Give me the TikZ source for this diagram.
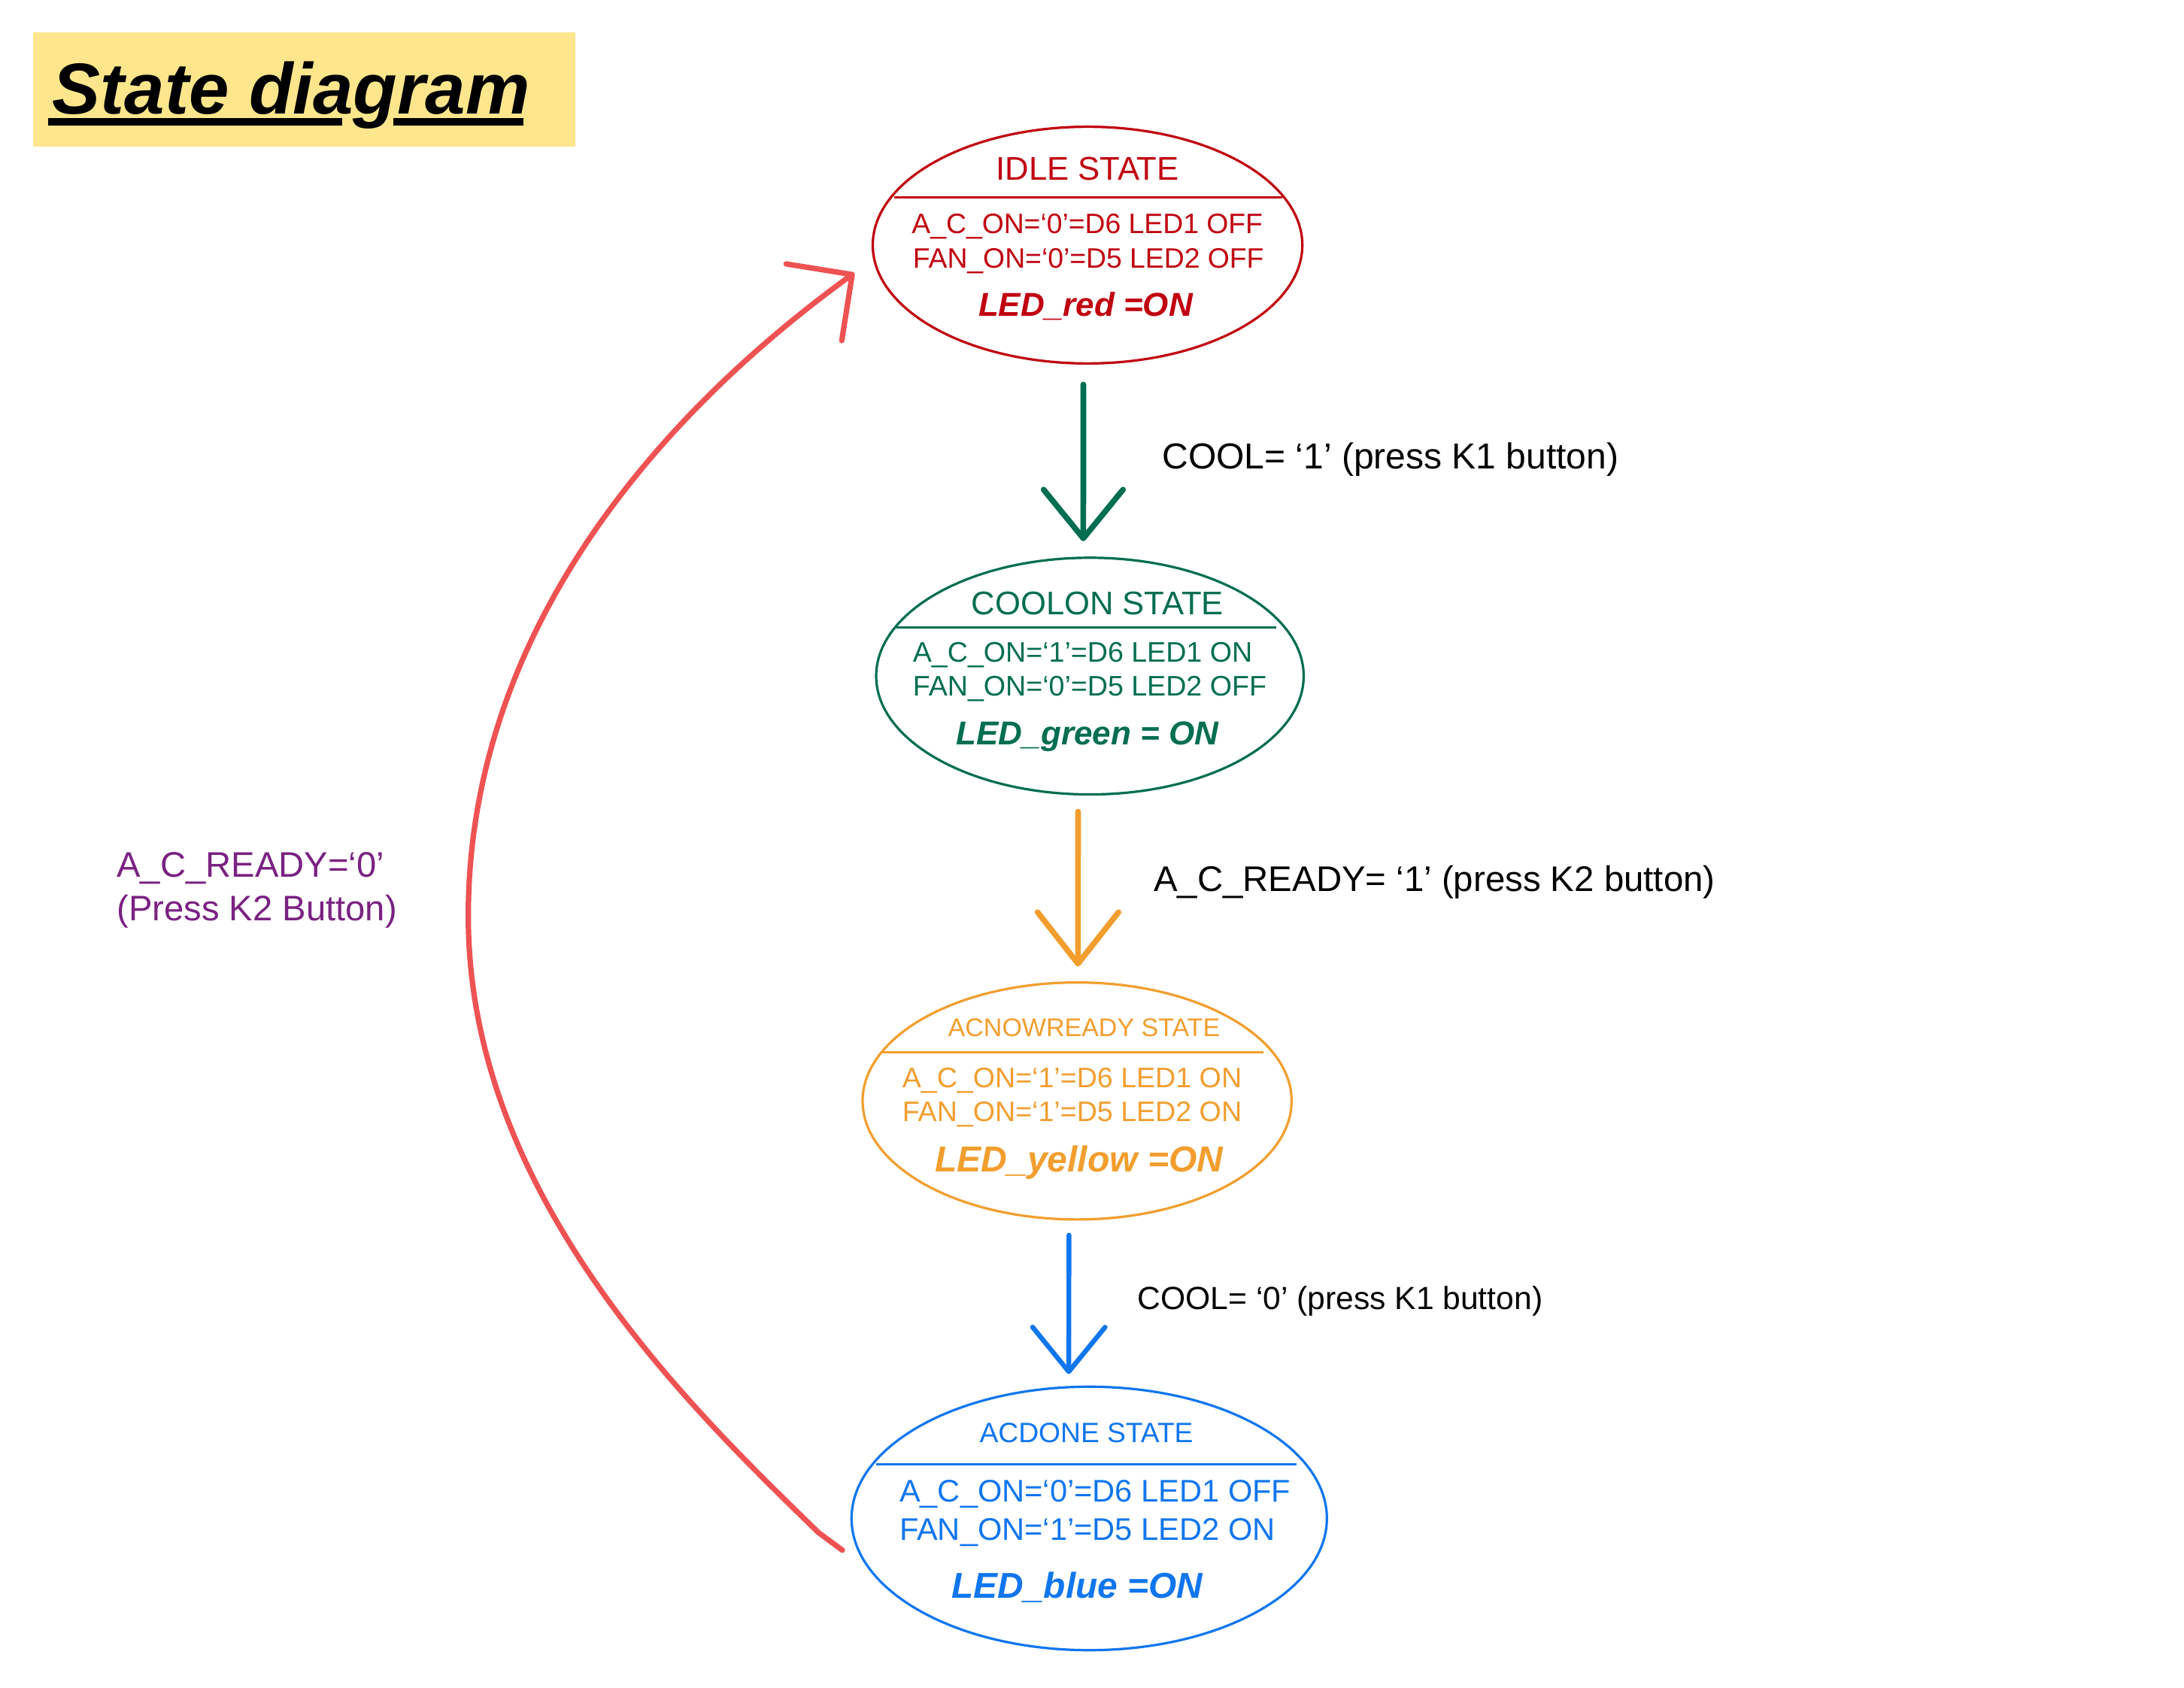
\documentclass[tikz,border=0pt]{standalone}
\usepackage{fontspec}
\setmainfont{Liberation Sans}
\usetikzlibrary{shapes.geometric,arrows.meta}
\definecolor{cidle}{RGB}{192,0,16}
\definecolor{cgreen}{RGB}{0,110,80}
\definecolor{corange}{RGB}{242,158,46}
\definecolor{cblue}{RGB}{16,118,238}
\definecolor{credarr}{RGB}{238,82,82}
\definecolor{cpurple}{RGB}{122,34,130}
\definecolor{cyellow}{RGB}{255,230,140}
\begin{document}
\begin{tikzpicture}[x=0.463pt,y=-0.463pt,
  statebox/.style={draw, ellipse, inner sep=0pt, line width=0.8pt},
  divider/.style={line width=0.8pt},
  fsz/.style={font=\fontsize{#1}{#1}\selectfont},
  bisz/.style={font=\fontsize{#1}{#1}\selectfont\bfseries\itshape},
  ctxt/.style={inner sep=0pt, anchor=base},
  ltxt/.style={inner sep=0pt, anchor=base west},
  conn/.style={line width=1.9pt, line cap=round, line join=round}
]
\useasboundingbox (0,0) rectangle (1568,1212);
\fill[white] (0,0) rectangle (1568,1212);

% title
\fill[cyellow] (23.5,23.4) rectangle (413,105.3);
\node[ltxt, bisz=24] (title) at (37.2,81.9) {State diagram};
\draw[line width=2.5pt] (34.3,87.3) -- (245.8,87.3);
\draw[line width=2.5pt] (282.2,87.3) -- (376,87.3);

% IDLE
\node[statebox, draw=cidle, minimum width=142.8pt, minimum height=78.7pt] (idle) at (780.8,176) {};
\draw[divider, cidle] (642,141.6) -- (920.6,141.6);
\node[ctxt, fsz=10.9, text=cidle] (idleT) at (780.8,129.2) {IDLE STATE};
\node[ltxt, fsz=9.33, text=cidle] (idleA) at (654.2,167.4) {A\_C\_ON=‘0’=D6 LED1 OFF};
\node[ltxt, fsz=9.33, text=cidle] (idleB) at (655,192.6) {FAN\_ON=‘0’=D5 LED2 OFF};
\node[ctxt, bisz=11, text=cidle] (idleC) at (779.4,227.2) {LED\_red =ON};

% COOLON
\node[statebox, draw=cgreen, minimum width=142.1pt, minimum height=78.7pt] (coolon) at (782.5,485.5) {};
\draw[divider, cgreen] (643.5,450.5) -- (916.2,450.5);
\node[ctxt, fsz=10.9, text=cgreen] (coolT) at (788,441.2) {COOLON STATE};
\node[ltxt, fsz=9.4, text=cgreen] (coolA) at (655,475.4) {A\_C\_ON=‘1’=D6 LED1 ON};
\node[ltxt, fsz=9.4, text=cgreen] (coolB) at (655,499.8) {FAN\_ON=‘0’=D5 LED2 OFF};
\node[ctxt, bisz=11, text=cgreen] (coolC) at (780.7,534.9) {LED\_green = ON};

% ACNOWREADY
\node[statebox, draw=corange, minimum width=142.6pt, minimum height=78.8pt] (acnow) at (773.3,790.6) {};
\draw[divider, corange] (633.7,755.6) -- (907.3,755.6);
\node[ctxt, fsz=8.5, text=corange] (acnowT) at (778.3,744.2) {ACNOWREADY STATE};
\node[ltxt, fsz=9.4, text=corange] (acnowA) at (647.4,781.2) {A\_C\_ON=‘1’=D6 LED1 ON};
\node[ltxt, fsz=9.4, text=corange] (acnowB) at (647.4,805.4) {FAN\_ON=‘1’=D5 LED2 ON};
\node[ctxt, bisz=12, text=corange] (acnowC) at (774.7,841.4) {LED\_yellow =ON};

% ACDONE
\node[statebox, draw=cblue, minimum width=158pt, minimum height=87.6pt] (acdone) at (782,1090.4) {};
\draw[divider, cblue] (629,1051.6) -- (930.7,1051.6);
\node[ctxt, fsz=9.3, text=cblue] (acdoneT) at (780,1036.1) {ACDONE STATE};
\node[ltxt, fsz=10.4, text=cblue] (acdoneA) at (645.4,1078.5) {A\_C\_ON=‘0’=D6 LED1 OFF};
\node[ltxt, fsz=10.4, text=cblue] (acdoneB) at (645.4,1106) {FAN\_ON=‘1’=D5 LED2 ON};
\node[ctxt, bisz=11.95, text=cblue] (acdoneC) at (773.4,1147.8) {LED\_blue =ON};

% transitions
\draw[conn, cgreen, -{Straight Barb[length=16.2pt,width=26.4pt,round]}, shorten <=6.6pt, shorten >=5.1pt]
  ([xshift=-1.4pt]idle.south) -- ([xshift=-2.2pt]coolon.north);
\node[ltxt, fsz=12] (lab1) at (834,336.8) {COOL= ‘1’ (press K1 button)};

\draw[conn, corange, -{Straight Barb[length=17.1pt,width=26.9pt,round]}, shorten <=5.3pt, shorten >=4.9pt]
  ([xshift=-3.94pt]coolon.south) -- ([xshift=0.3pt]acnow.north);
\node[ltxt, fsz=11.84] (lab2) at (828,640) {A\_C\_READY= ‘1’ (press K2 button)};

\draw[conn, cblue, line width=1.6pt, -{Straight Barb[length=14.8pt,width=24.1pt,round]}, shorten <=4.8pt, shorten >=3.8pt]
  ([xshift=-2.7pt]acnow.south) -- ([xshift=-6.8pt]acdone.north);
\node[ltxt, fsz=10.65] (lab3) at (816.3,940.5) {COOL= ‘0’ (press K1 button)};

\coordinate (rs) at (604.8,1113.2);
\coordinate (rk) at (587.7,1100.6);
\coordinate (re) at (613.4,196);
\draw[conn, credarr, line width=1.8pt, -{Straight Barb[length=15.7pt,width=31.5pt,round]}]
  (rs) -- (rk) .. controls (494.6,1009.9) and (336.2,857.9) .. (336.2,657.9)
       .. controls (336.2,457.9) and (467.6,301.7) .. (re);
\node[ltxt, fsz=11.8, text=cpurple] (lab4a) at (83.5,630) {A\_C\_READY=‘0’};
\node[ltxt, fsz=11.8, text=cpurple] (lab4b) at (83.5,661) {(Press K2 Button)};
\end{tikzpicture}
\end{document}
